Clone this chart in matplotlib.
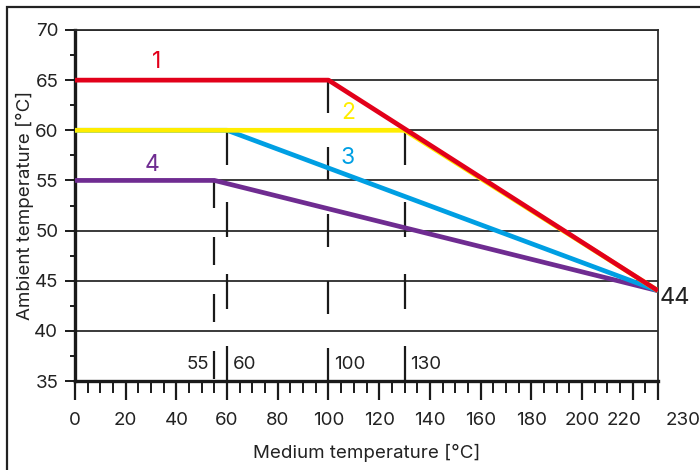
import numpy as np
import matplotlib.pyplot as plt
import matplotlib.transforms as mtransforms
from matplotlib.patches import Rectangle

plt.rcParams['font.family'] = ['Inter', 'DejaVu Sans']
plt.rcParams['lines.scale_dashes'] = False

# curves: medium temperature -> ambient temperature
x1 = [0, 100, 230]
y1 = [65, 65, 44]
x2 = [0, 130, 230]
y2 = [60, 60, 44]
x3 = [0, 60, 230]
y3 = [60, 60, 44]
x4 = [0, 55, 230]
y4 = [55, 55, 44]

curve_names = ['1', '2', '3', '4']
curve_colors = ['#e2001a', '#ffed00', '#009fe3', '#6f2c91']
name_x = [32.3, 107.7, 107.7, 30.4]
name_y = [66.8, 61.7, 57.2, 56.5]

# break points marked with dashed verticals
mark_x = [55, 60, 100, 130]
mark_top = [55, 60, 65, 60]
mark_labels = ['55', '60', '100', '130']
mark_dash_px = [(28, 29), (35, 37), (33, 34), (35, 37)]

end_value = 44

x_ticks = [0, 20, 40, 60, 80, 100, 120, 140, 160, 180, 200, 220, 230]
y_ticks = [35, 40, 45, 50, 55, 60, 65, 70]

fig = plt.figure(figsize=(7, 4.7), dpi=100)
ax = fig.add_axes([75 / 700, 1 - 381 / 470, 583 / 700, 351 / 470])

ax.set_xlim(0, 230)
ax.set_ylim(35, 70)

# horizontal grid
for yv in y_ticks[1:]:
    ax.axhline(yv, color='#2b2b2b', lw=1.3, zorder=1)

# dashed marker lines
for mx, mt, (on, off) in zip(mark_x, mark_top, mark_dash_px):
    ax.plot([mx, mx], [mt, 35], color='#1a1a1a', lw=1.6,
            linestyle=(0, (on * 0.72, off * 0.72)), zorder=2, clip_on=False)

# curves (drawing order: purple, blue, yellow, red)
lw = 3.4
ax.plot(x4, y4, color=curve_colors[3], lw=lw, zorder=3, solid_capstyle='butt')
ax.plot(x3, y3, color=curve_colors[2], lw=lw, zorder=4, solid_capstyle='butt')
ax.plot(x2, y2, color=curve_colors[1], lw=lw, zorder=5, solid_capstyle='butt')
ax.plot(x1, y1, color=curve_colors[0], lw=lw, zorder=6, solid_capstyle='butt')

for name, c, nx, ny in zip(curve_names, curve_colors, name_x, name_y):
    ax.text(nx, ny, name, color=c, fontsize=16.5, ha='center', va='center', zorder=7)

# labels of the break points
for mx, lab in zip(mark_x, mark_labels):
    if lab == '55':
        off = mtransforms.ScaledTranslation(-5 / 100, 0, fig.dpi_scale_trans)
        ax.text(mx, 36.6, lab, ha='right', va='center', fontsize=13.5,
                color='#222222', transform=ax.transData + off)
    else:
        off = mtransforms.ScaledTranslation(6 / 100, 0, fig.dpi_scale_trans)
        ax.text(mx, 36.6, lab, ha='left', va='center', fontsize=13.5,
                color='#222222', transform=ax.transData + off)

off44 = mtransforms.ScaledTranslation(2 / 100, -7 / 100, fig.dpi_scale_trans)
ax.text(230, end_value, str(end_value), ha='left', va='center', fontsize=17,
        color='#222222', transform=ax.transData + off44, clip_on=False)

# spines
for side in ['left', 'bottom']:
    ax.spines[side].set_linewidth(2.4)
    ax.spines[side].set_color('#1a1a1a')
for side in ['top', 'right']:
    ax.spines[side].set_linewidth(1.3)
    ax.spines[side].set_color('#2b2b2b')

# ticks
ax.set_xticks(x_ticks)
ax.set_xticks(np.arange(0, 231, 5), minor=True)
ax.set_yticks(y_ticks)
ax.set_yticks(np.arange(35, 70.1, 2.5), minor=True)
ax.tick_params(axis='x', which='major', direction='out', length=14, width=1.6,
               pad=8, labelsize=13.5, colors='#1a1a1a', labelcolor='#222222')
ax.tick_params(axis='x', which='minor', direction='out', length=8.5, width=1.4,
               colors='#1a1a1a')
ax.tick_params(axis='y', which='major', direction='out', length=7, width=1.4,
               pad=5, labelsize=13.5, colors='#1a1a1a', labelcolor='#222222')
ax.tick_params(axis='y', which='minor', direction='out', length=3.6, width=1.4,
               colors='#1a1a1a')

# nudge the last two x labels apart like the original
labels = ax.get_xticklabels()
labels[-2].set_transform(labels[-2].get_transform() +
                         mtransforms.ScaledTranslation(-9 / 100, 0, fig.dpi_scale_trans))
labels[-1].set_transform(labels[-1].get_transform() +
                         mtransforms.ScaledTranslation(25 / 100, 0, fig.dpi_scale_trans))

ax.set_xlabel('Medium temperature [°C]', fontsize=13.5, color='#222222', labelpad=11)
ax.set_ylabel('Ambient temperature [°C]', fontsize=13.5, color='#222222', labelpad=0)

# outer frame of the figure
fig.patches.append(Rectangle((7 / 700, -0.05), 1.0, 1 - 7 / 470 + 0.05,
                             transform=fig.transFigure, fill=False,
                             edgecolor='#222222', lw=1.6))

fig.savefig('out.png', dpi=100)
